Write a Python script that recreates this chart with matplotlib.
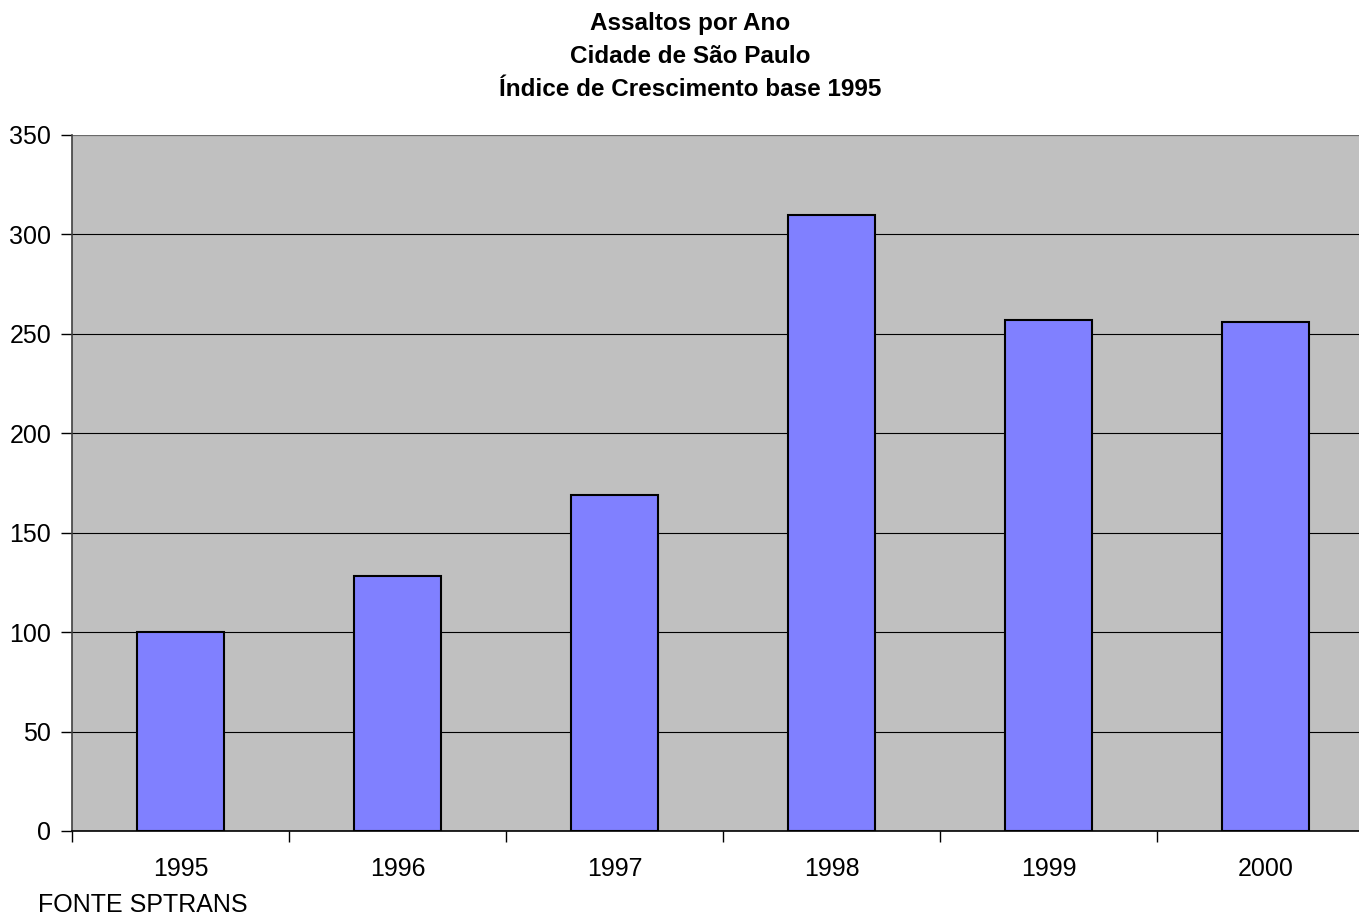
import matplotlib
matplotlib.use("Agg")
import matplotlib.pyplot as plt

# dados (indice base 1995 = 100)
anos = ["1995", "1996", "1997", "1998", "1999", "2000"]
indice = [100, 128, 169, 310, 257, 256]
yticks = [0, 50, 100, 150, 200, 250, 300, 350]

plt.rcParams["font.family"] = ["Liberation Sans", "DejaVu Sans"]

W, H = 1359, 918
fig = plt.figure(figsize=(W / 100, H / 100), dpi=100)
# area do grafico: passa da borda direita, como no original
ax = fig.add_axes([72 / W, 1 - 831 / H, 1302 / W, 696 / H])
ax.set_facecolor("#C0C0C0")

x = list(range(len(anos)))
ax.bar(x, indice, width=0.4, color="#8080FF", edgecolor="black", linewidth=1.5, zorder=3)

ax.set_xlim(-0.5, len(anos) - 0.5)
ax.set_ylim(0, 350)
ax.set_yticks(yticks)
ax.set_yticklabels([str(v) for v in yticks], fontsize=18)
ax.yaxis.grid(True, color="#000000", linewidth=0.8, zorder=1)
ax.set_axisbelow(True)

# rotulos centrados nas categorias, ticks nas divisoes
ax.set_xticks([i - 0.5 for i in range(len(anos) + 1)])
ax.set_xticklabels([""] * (len(anos) + 1))
ax.set_xticks(x, minor=True)
ax.set_xticklabels(anos, minor=True, fontsize=18)
ax.tick_params(axis="x", which="minor", length=0, pad=19)
ax.tick_params(axis="x", which="major", length=8, width=1, color="#000000")
ax.tick_params(axis="y", length=8, width=1, pad=7)

for s in ["top", "right"]:
    ax.spines[s].set_visible(False)
ax.spines["left"].set_color("#404040")
ax.spines["left"].set_linewidth(1.2)
ax.spines["bottom"].set_color("#000000")
ax.spines["bottom"].set_linewidth(1.2)
ax.axhline(350, color="#808080", linewidth=1.2, zorder=2)

titulo = ["Assaltos por Ano", "Cidade de São Paulo", "Índice de Crescimento base 1995"]
for linha, base in zip(titulo, [30, 63, 96]):
    fig.text(690 / W, 1 - base / H, linha, ha="center", va="baseline",
             fontsize=17.5, fontweight="bold")
fig.text(38 / W, 1 - 912 / H, "FONTE SPTRANS", ha="left", va="baseline", fontsize=18)

fig.savefig("out.png", dpi=100)
